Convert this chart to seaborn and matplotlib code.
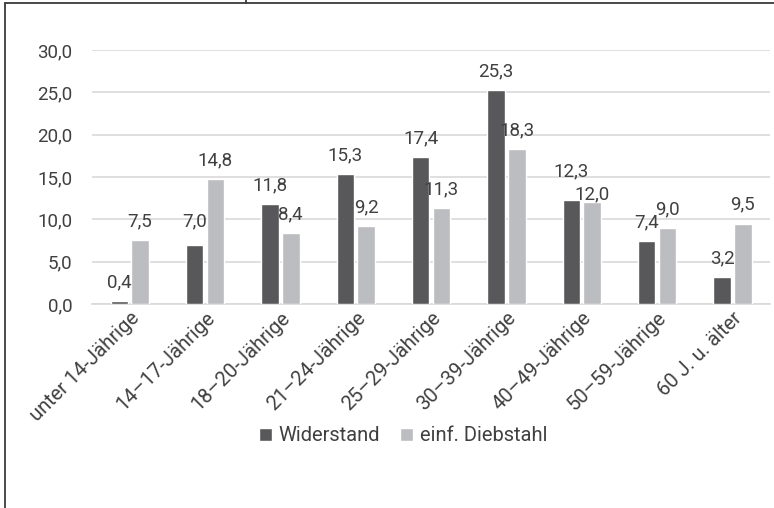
import matplotlib
matplotlib.use("Agg")
import matplotlib.pyplot as plt
import matplotlib.lines as mlines
import seaborn as sns
import pandas as pd

# Altersgruppen und Anteile (%) der Tatverdächtigen
age_groups = ["unter 14-Jährige", "14–17-Jährige", "18–20-Jährige", "21–24-Jährige",
              "25–29-Jährige", "30–39-Jährige", "40–49-Jährige", "50–59-Jährige",
              "60 J. u. älter"]
widerstand = [0.4, 7.0, 11.8, 15.3, 17.4, 25.3, 12.3, 7.4, 3.2]
diebstahl = [7.5, 14.8, 8.4, 9.2, 11.3, 18.3, 12.0, 9.0, 9.5]
series_names = ["Widerstand", "einf. Diebstahl"]
y_ticks = [0, 5, 10, 15, 20, 25, 30]

df = pd.DataFrame({
    "Gruppe": age_groups * 2,
    "Wert": widerstand + diebstahl,
    "Delikt": [series_names[0]] * len(age_groups) + [series_names[1]] * len(age_groups),
})

sns.set_theme(style="white")
plt.rcParams["font.family"] = ["Roboto", "DejaVu Sans"]
text_col = "#404040"
fs = 13.5
fs_cat = 14.5

fig = plt.figure(figsize=(7.74, 5.08), dpi=100)
ax = fig.add_axes([0.1189, 0.4016, 0.876, 0.5])

palette = {series_names[0]: "#58585a", series_names[1]: "#bcbdc0"}
sns.barplot(data=df, x="Gruppe", y="Wert", hue="Delikt", palette=palette,
            width=0.55, gap=0.15, saturation=1, ax=ax, legend=True, zorder=3)

ax.set_ylim(0, 30)
ax.set_yticks(y_ticks)
ax.set_yticklabels([f"{v:.1f}".replace(".", ",") for v in y_ticks],
                   fontsize=fs, color=text_col)
ax.yaxis.grid(True, color="#d9d9d9", linewidth=1.2, zorder=0)
ax.set_axisbelow(True)
for s in ["top", "right", "left"]:
    ax.spines[s].set_visible(False)
ax.spines["bottom"].set_color("#d9d9d9")
ax.spines["bottom"].set_linewidth(1.2)
ax.tick_params(axis="y", length=0, pad=14)
ax.tick_params(axis="x", length=0, pad=3)
ax.set_xlabel("")
ax.set_ylabel("")
ax.set_xlim(-0.5, len(age_groups) - 0.5)
plt.setp(ax.get_xticklabels(), rotation=45, ha="right", rotation_mode="anchor",
         fontsize=fs_cat, color=text_col)

# Wertebeschriftungen über den Balken; eng benachbarte Beschriftungen versetzt
nudge = {(0, 1): 3, (0, 6): 7, (1, 6): -8}
for si, cont in enumerate(ax.containers):
    for bi, bar in enumerate(cont):
        h = bar.get_height()
        ax.annotate(f"{h:.1f}".replace(".", ","),
                    (bar.get_x() + bar.get_width() / 2, h),
                    xytext=(0, 7 + nudge.get((si, bi), 0)),
                    textcoords="offset points", ha="center", va="bottom",
                    fontsize=fs, color=text_col)

handles, labs = ax.get_legend_handles_labels()
ax.legend_.remove()
fig.legend(handles, labs, loc="center", bbox_to_anchor=(0.521, 0.142), ncol=2,
           frameon=False, fontsize=fs_cat, handlelength=0.65, handleheight=0.65,
           handletextpad=0.35, columnspacing=1.0, labelcolor=text_col)

# Rahmenlinien der Abbildung
frame_col = "#3a3a3a"
fig.add_artist(mlines.Line2D([5 / 774, 1.0], [1 - 3 / 508] * 2, color=frame_col,
                             linewidth=1.3, transform=fig.transFigure))
fig.add_artist(mlines.Line2D([5 / 774] * 2, [0, 1 - 3 / 508], color=frame_col,
                             linewidth=1.3, transform=fig.transFigure))
fig.add_artist(mlines.Line2D([246 / 774] * 2, [1 - 3 / 508, 1.0], color=frame_col,
                             linewidth=1.3, transform=fig.transFigure))

fig.savefig("out.png", dpi=100, facecolor="white")
